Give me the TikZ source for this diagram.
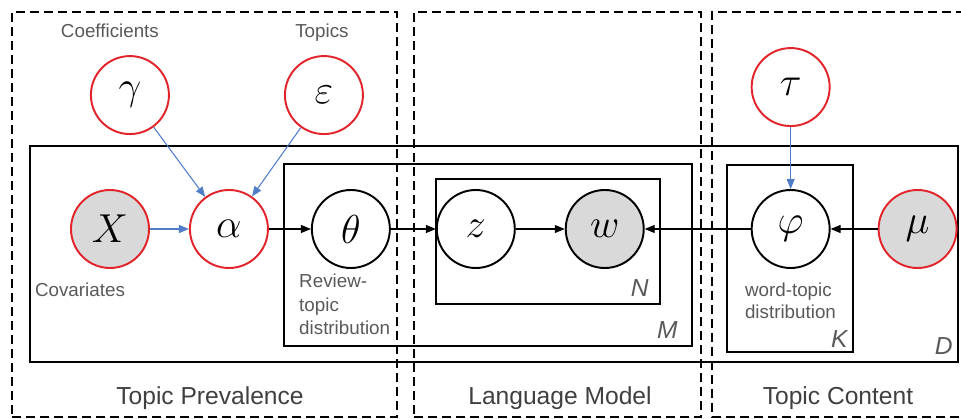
\RequirePackage{fix-cm}
\documentclass[tikz,border=0pt]{standalone}
\usepackage{amsmath,amssymb}
\usepackage{fontspec}
\setmainfont{Liberation Sans}
\usepackage{xcolor}
\usetikzlibrary{positioning,arrows.meta}

\definecolor{nodered}{RGB}{226,35,42}
\definecolor{arrowblue}{RGB}{80,125,200}
\definecolor{obsgray}{RGB}{217,217,217}
\definecolor{txtgray}{RGB}{89,89,89}

\begin{document}
\begin{tikzpicture}[
  font=\fontsize{10.7}{13.3}\selectfont,
  every node/.style={align=center},
  hyper/.style   ={circle, draw=nodered, line width=1.1pt, fill=white,
                   minimum size=1.56cm, inner sep=0pt,
                   font=\fontsize{23}{27}\selectfont},
  hyperobs/.style={hyper, fill=obsgray},
  latent/.style  ={hyper, draw=black},
  obs/.style     ={latent, fill=obsgray},
  plate/.style   ={rectangle, draw=black, line width=1pt, inner sep=0pt},
  region/.style  ={draw=black, line width=1.1pt, dash pattern=on 0.18cm off 0.1cm},
  lbl/.style     ={text=txtgray, align=left, inner sep=0pt},
  platelbl/.style={text=txtgray, inner sep=0pt,
                   font=\fontsize{14}{16}\selectfont\itshape},
  title/.style   ={text=black!75, inner sep=0pt, font=\fontsize{14}{16}\selectfont},
  edge/.style    ={draw=black, line width=0.6pt, -{Triangle[length=2mm, width=1.6mm]}},
  edge-b/.style  ={edge, draw=arrowblue},
]
\useasboundingbox (0,0) rectangle (19.22,-8.38);

% --- Blocs ---
\node[region, minimum width=7.7cm, minimum height=8.1cm]  (prev) at (4.09,-4.29) {};
\node[region, minimum width=5.74cm, minimum height=8.1cm] (lang) at (11.15,-4.29) {};
\draw[region] (19.3,-0.24) -| (14.24,-8.34) -- (19.3,-8.34);

% --- Plaques ---
\node[plate, minimum width=18.56cm, minimum height=4.32cm] (Dplate) at (9.88,-5.08) {};
\node[plate, minimum width=8.16cm, minimum height=3.64cm]  (Mplate) at (9.76,-5.1) {};
\node[plate, minimum width=4.48cm, minimum height=2.5cm]   (Nplate) at (10.96,-4.83) {};
\node[plate, minimum width=2.52cm, minimum height=3.74cm]  (Kplate) at (15.8,-5.17) {};

\node[platelbl, above left=0.16cm and 0.24cm of Nplate.south east] (Nlbl) {N};
\node[platelbl, above left=0.16cm and 0.3cm of Mplate.south east]  (Mlbl) {M};
\node[platelbl, above left=0.1cm and 0.12cm of Kplate.south east]  (Klbl) {K};
\node[platelbl, above left=0.16cm and 0.12cm of Dplate.south east] (Dlbl) {D};

% --- Rangee principale ---
\node[hyperobs] (X) at (2.2,-4.58) {$X$};
\node[hyper, right=0.78cm of X]     (alpha) {$\alpha$};
\node[latent, right=0.84cm of alpha] (theta) {$\theta$};
\node[latent, right=0.9cm of theta]  (z)     {$z$};
\node[obs, right=0.98cm of z]        (w)     {$w$};
\node[latent, right=2.12cm of w]     (phi)   {$\varphi$};
\node[hyperobs, right=0.94cm of phi] (mu)    {$\mu$};

% --- Rangee du haut ---
\node[hyper, above=1.08cm of alpha, xshift=-1.98cm] (gamma) {$\gamma$};
\node[hyper, above=1.08cm of alpha, xshift=1.9cm]   (eps)   {$\varepsilon$};
\node[hyper, above=1.24cm of phi]                   (tau)   {$\tau$};

% --- Etiquettes ---
\node[lbl, above=0.34cm of gamma, xshift=-0.4cm] (coef)   {Coefficients};
\node[lbl, above=0.27cm of eps, xshift=-0.04cm]  (topics) {Topics};
\node[lbl, below=0.28cm of X, xshift=-0.6cm]     (covar)  {Covariates};
\node[lbl, below=0.1cm of theta.south, anchor=north west, xshift=-1.04cm] (revlbl)
  {Review-\\topic\\distribution};
\node[lbl, below=0.28cm of phi.south, anchor=north west, xshift=-0.92cm,
      font=\fontsize{10.7}{12.5}\selectfont] (wordlbl) {word-topic\\distribution};

% --- Titres des blocs ---
\node[title] (tprev) at (4.2,-7.96)   {Topic Prevalence};
\node[title] (tlang) at (11.2,-7.96)  {Language Model};
\node[title] (tcont) at (16.76,-7.96) {Topic Content};

% --- Liens ---
\draw[edge-b] (gamma) -- (alpha);
\draw[edge-b] (eps) -- (alpha);
\draw[edge-b] (X) -- (alpha);
\draw[edge-b] (tau) -- (phi);

\draw[edge] (alpha) -- (theta);
\draw[edge] (theta) -- (z);
\draw[edge] (z) -- (w);
\draw[edge] (phi) -- (w);
\draw[edge] (mu) -- (phi);

\end{tikzpicture}
\end{document}
